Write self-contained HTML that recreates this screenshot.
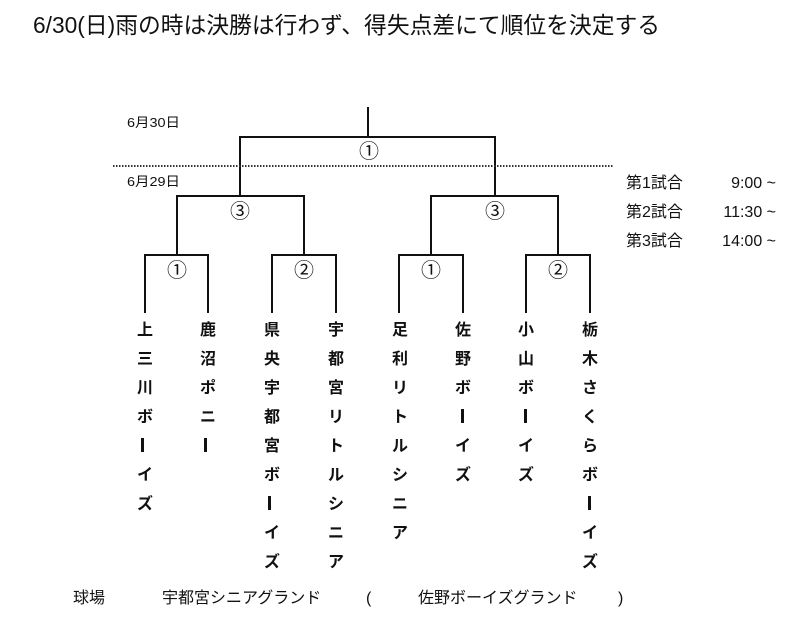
<!DOCTYPE html>
<html><head><meta charset="utf-8"><style>
html,body{margin:0;padding:0;background:#fff;width:800px;height:622px;overflow:hidden}
svg{display:block}
text{font-family:"Liberation Sans","Noto Sans CJK JP",sans-serif;fill:#111}
.t{font-weight:bold;font-size:16px}
</style></head><body>
<svg width="800" height="622" viewBox="0 0 800 622" xmlns="http://www.w3.org/2000/svg">
<text x="33" y="33" font-size="23" textLength="627" lengthAdjust="spacingAndGlyphs">6/30(日)雨の時は決勝は行わず、得失点差にて順位を決定する</text>
<g stroke="#111" stroke-width="2" fill="none">
<path d="M368 107V137M240 196V137H495V196"/>
<path d="M177 255V196H304V255M431 255V196H558V255"/>
<path d="M145 313V255H208V313M272 313V255H336V313M399 313V255H463V313M526 313V255H590V313"/>
</g>
<line x1="113" y1="166" x2="613" y2="166" stroke="#333" stroke-width="2" stroke-dasharray="1.5,1.5"/>
<text x="127" y="127" font-size="13" textLength="53" lengthAdjust="spacingAndGlyphs">6月30日</text>
<text x="127" y="186" font-size="13" textLength="53" lengthAdjust="spacingAndGlyphs">6月29日</text>
<g font-size="20" text-anchor="middle">
<text x="369" y="158">①</text>
<text x="240" y="218">③</text><text x="495" y="218">③</text>
<text x="177" y="277">①</text><text x="304" y="277">②</text>
<text x="431" y="277">①</text><text x="558" y="277">②</text>
</g>
<g font-size="16">
<text x="626" y="188">第1試合</text><text x="626" y="217">第2試合</text><text x="626" y="246">第3試合</text>
<text x="776" y="188" text-anchor="end">9:00 ~</text>
<text x="776" y="217" text-anchor="end">11:30 ~</text>
<text x="776" y="246" text-anchor="end">14:00 ~</text>
</g>
<g class="t" text-anchor="middle">
<text x="145" y="335">上</text><text x="145" y="364">三</text><text x="145" y="393">川</text><text x="145" y="422">ボ</text><text x="145" y="480">イ</text><text x="145" y="509">ズ</text>
<text x="208" y="335">鹿</text><text x="208" y="364">沼</text><text x="208" y="393">ポ</text><text x="208" y="422">ニ</text>
<text x="272" y="335">県</text><text x="272" y="364">央</text><text x="272" y="393">宇</text><text x="272" y="422">都</text><text x="272" y="451">宮</text><text x="272" y="480">ボ</text><text x="272" y="538">イ</text><text x="272" y="567">ズ</text>
<text x="336" y="335">宇</text><text x="336" y="364">都</text><text x="336" y="393">宮</text><text x="336" y="422">リ</text><text x="336" y="451">ト</text><text x="336" y="480">ル</text><text x="336" y="509">シ</text><text x="336" y="538">ニ</text><text x="336" y="567">ア</text>
<text x="400" y="335">足</text><text x="400" y="364">利</text><text x="400" y="393">リ</text><text x="400" y="422">ト</text><text x="400" y="451">ル</text><text x="400" y="480">シ</text><text x="400" y="509">ニ</text><text x="400" y="538">ア</text>
<text x="463" y="335">佐</text><text x="463" y="364">野</text><text x="463" y="393">ボ</text><text x="463" y="451">イ</text><text x="463" y="480">ズ</text>
<text x="526" y="335">小</text><text x="526" y="364">山</text><text x="526" y="393">ボ</text><text x="526" y="451">イ</text><text x="526" y="480">ズ</text>
<text x="590" y="335">栃</text><text x="590" y="364">木</text><text x="590" y="393">さ</text><text x="590" y="422">く</text><text x="590" y="451">ら</text><text x="590" y="480">ボ</text><text x="590" y="538">イ</text><text x="590" y="567">ズ</text>
</g>
<g fill="#111">
<rect x="141" y="438" width="3" height="14"/>
<rect x="204" y="438" width="3" height="14"/>
<rect x="268" y="496" width="3" height="14"/>
<rect x="461" y="409" width="3" height="14"/>
<rect x="524" y="409" width="3" height="14"/>
<rect x="588" y="496" width="3" height="14"/>
</g>
<g font-size="16">
<text x="73" y="603">球場</text>
<text x="162" y="603">宇都宮シニアグランド</text>
<text x="366" y="603">(</text>
<text x="418" y="603">佐野ボーイズグランド</text>
<text x="618" y="603">)</text>
</g>
</svg>
</body></html>
